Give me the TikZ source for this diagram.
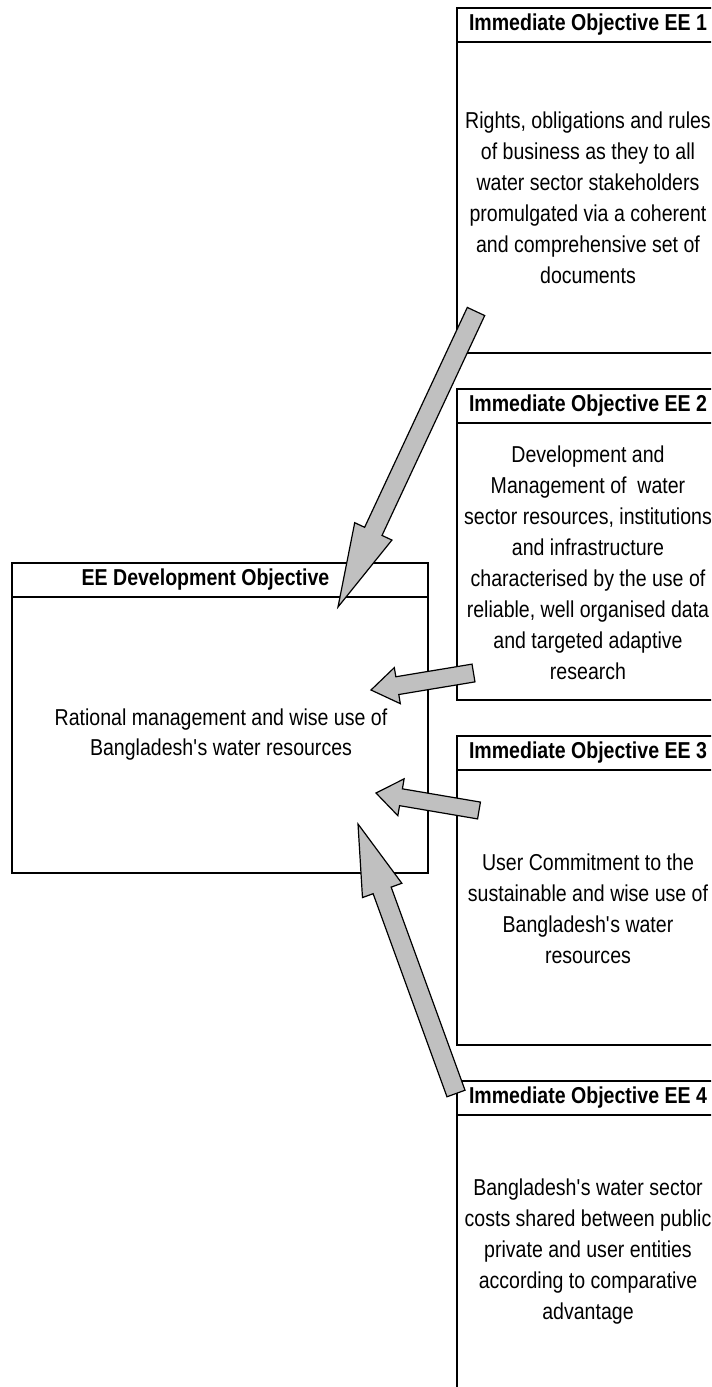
\documentclass[tikz,border=0pt]{standalone}
\usepackage{fontspec}
\setmainfont{Liberation Sans}[FakeStretch=0.85]
\usetikzlibrary{calc}

\definecolor{arrowgrey}{RGB}{192,192,192}
\tikzset{
  boxline/.style={line width=2.2pt},
  titletext/.style={font=\fontsize{17.25}{20}\selectfont\bfseries, inner sep=0pt},
  bodytext/.style={font=\fontsize{17.25}{#1}\selectfont, align=center, inner sep=0pt},
  bodytext/.default=23.25,
  blockfill/.style={fill=arrowgrey, draw=black, line width=0.9pt, line join=miter},
}

% block arrow: tail, tip, head length, half shaft, half head
\newcommand{\blockarrow}[5]{%
  \coordinate (#1-neck) at ($(#2)!#3!(#1)$);
  \draw[blockfill] ($(#1)!#4!90:(#2)$) -- ($(#1-neck)!#4!90:(#2)$)
    -- ($(#1-neck)!#5!90:(#2)$) -- (#2) -- ($(#1-neck)!#5!-90:(#2)$)
    -- ($(#1-neck)!#4!-90:(#2)$) -- ($(#1)!#4!-90:(#2)$) -- cycle;
}

\begin{document}
\begin{tikzpicture}[x=0.75pt, y=-0.75pt]
  \useasboundingbox (0,0) rectangle (711,1387);
  \clip (0,0) rectangle (711,1387);

  % development objective
  \draw[boxline] (12,563) rectangle (428,873);
  \draw[boxline] (12,597) -- (428,597);
  \node[titletext] (devtitle) at (205.5,580) {EE Development Objective};
  \node[bodytext=22.5] (devbody) at (221,735)
    {Rational management and wise use of\\Bangladesh\textquotesingle s water resources};

  % immediate objectives
  \draw[boxline] (457,8) rectangle (718,353);
  \draw[boxline] (457,42) -- (718,42);
  \node[titletext] (ee1title) at (588,25) {Immediate Objective EE 1};
  \node[bodytext] (ee1body) at (588,198)
    {Rights, obligations and rules\\of business as they to all\\water sector stakeholders\\promulgated via a coherent\\and comprehensive set of\\documents};

  \draw[boxline] (457,389) rectangle (718,700);
  \draw[boxline] (457,423) -- (718,423);
  \node[titletext] (ee2title) at (588,406) {Immediate Objective EE 2};
  \node[bodytext] (ee2body) at (588,563)
    {Development and\\Management of~ water\\sector resources, institutions\\and infrastructure\\characterised by the use of\\reliable, well organised data\\and targeted adaptive\\research};

  \draw[boxline] (457,736) rectangle (718,1045);
  \draw[boxline] (457,770) -- (718,770);
  \node[titletext] (ee3title) at (588,753) {Immediate Objective EE 3};
  \node[bodytext] (ee3body) at (588,909)
    {User Commitment to the\\sustainable and wise use of\\Bangladesh\textquotesingle s water\\resources};

  \draw[boxline] (457,1081) rectangle (718,1400);
  \draw[boxline] (457,1115) -- (718,1115);
  \node[titletext] (ee4title) at (588,1098) {Immediate Objective EE 4};
  \node[bodytext] (ee4body) at (588,1252)
    {Bangladesh\textquotesingle s water sector\\costs shared between public\\private and user entities\\according to comparative\\advantage};

  % arrows into the development objective
  \coordinate (tail1) at (476,311.5);
  \coordinate (tip1) at (338,607);
  \coordinate (tail2) at (473.5,673);
  \coordinate (tip2) at (371,690);
  \coordinate (tail3) at (479,810.5);
  \coordinate (tip3) at (376,793);
  \coordinate (tail4) at (456,1093.5);
  \coordinate (tip4) at (358,824);
  \blockarrow{tail1}{tip1}{62.6pt}{7.2pt}{15.4pt}
  \blockarrow{tail2}{tip2}{20pt}{6.75pt}{13.7pt}
  \blockarrow{tail3}{tip3}{19pt}{6.4pt}{14pt}
  \blockarrow{tail4}{tip4}{53pt}{7.2pt}{15.7pt}
\end{tikzpicture}
\end{document}
